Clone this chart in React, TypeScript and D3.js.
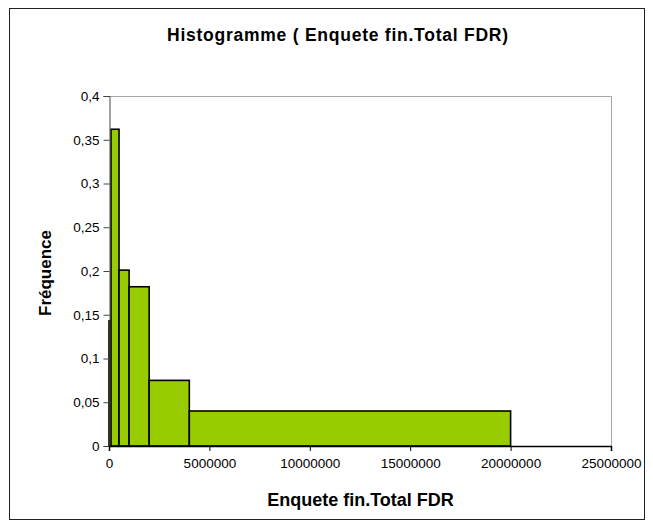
import React, { useEffect, useRef } from "react";
import * as d3 from "d3";

// histogram bins (lower / upper bound) and relative frequency
const binStarts = [0, 100000, 500000, 1000000, 2000000, 4000000, 20000000];
const binEnds = [100000, 500000, 1000000, 2000000, 4000000, 20000000, 25000000];
const frequencies = [0.143, 0.362, 0.201, 0.182, 0.075, 0.04, 0];

const xTicks = [0, 5000000, 10000000, 15000000, 20000000, 25000000];
const yTicks = [0, 0.05, 0.1, 0.15, 0.2, 0.25, 0.3, 0.35, 0.4];

const chartTitle = "Histogramme ( Enquete fin.Total FDR)";
const xTitle = "Enquete fin.Total FDR";
const yTitle = "Fréquence";

const FONT = "'Liberation Sans', Arial, sans-serif";

const Histogram = () => {
  const svgRef = useRef(null);

  useEffect(() => {
    const svg = d3.select(svgRef.current);
    svg.selectAll("*").remove();

    const W = 653;
    const H = 528;
    const left = 109;
    const right = 611;
    const top = 96;
    const bottom = 446;

    const frLocale = d3.formatLocale({
      decimal: ",",
      thousands: " ",
      grouping: [3],
      currency: ["", " €"],
    });

    const x = d3.scaleLinear().domain([0, 25000000]).range([left, right]);
    const y = d3.scaleLinear().domain([0, 0.4]).range([bottom, top]);

    // outer frame
    svg
      .append("rect")
      .attr("x", 9.5)
      .attr("y", 8.5)
      .attr("width", 635)
      .attr("height", 511)
      .attr("fill", "white")
      .attr("stroke", "#222");

    // plot area border (top / right)
    svg
      .append("path")
      .attr("d", `M${left},${top + 0.5}H${right + 0.5}V${bottom}`)
      .attr("fill", "none")
      .attr("stroke", "#a6a6a6");

    const data = frequencies.map((f, i) => ({
      x0: binStarts[i],
      x1: binEnds[i],
      f,
    }));

    svg
      .append("g")
      .selectAll("rect")
      .data(data)
      .join("rect")
      .attr("x", (d) => x(d.x0))
      .attr("y", (d) => y(d.f))
      .attr("width", (d) => x(d.x1) - x(d.x0))
      .attr("height", (d) => y(0) - y(d.f))
      .attr("fill", "#99cc00")
      .attr("stroke", "#000")
      .attr("stroke-width", 1.6);

    // y axis
    const yAxis = d3
      .axisLeft(y)
      .tickValues(yTicks)
      .tickSize(6)
      .tickPadding(4)
      .tickFormat(frLocale.format(".2~f"));

    const gy = svg
      .append("g")
      .attr("transform", `translate(${left + 0.5},0)`)
      .call(yAxis);
    gy.select(".domain").attr("stroke", "#444");
    gy.selectAll(".tick line").attr("stroke", "#444");
    gy.selectAll(".tick text")
      .attr("font-family", FONT)
      .attr("font-size", 13.5)
      .attr("fill", "#000");

    // x axis
    const xAxis = d3
      .axisBottom(x)
      .tickValues(xTicks)
      .tickSize(5)
      .tickPadding(7)
      .tickFormat(d3.format("d"));

    const gx = svg
      .append("g")
      .attr("transform", `translate(0,${bottom})`)
      .call(xAxis);
    gx.select(".domain").attr("stroke", "#000").attr("stroke-width", 1.5);
    gx.selectAll(".tick line").attr("stroke", "#000");
    gx.selectAll(".tick text")
      .attr("font-family", FONT)
      .attr("font-size", 13.5)
      .attr("fill", "#000");

    // titles
    svg
      .append("text")
      .attr("x", 337.5)
      .attr("y", 41)
      .attr("text-anchor", "middle")
      .attr("font-family", FONT)
      .attr("font-weight", "bold")
      .attr("font-size", 17.5)
      .attr("textLength", 341)
      .attr("lengthAdjust", "spacing")
      .text(chartTitle);

    svg
      .append("text")
      .attr("x", 360.5)
      .attr("y", 506)
      .attr("text-anchor", "middle")
      .attr("font-family", FONT)
      .attr("font-weight", "bold")
      .attr("font-size", 18)
      .text(xTitle);

    svg
      .append("text")
      .attr("transform", `translate(51,273) rotate(-90)`)
      .attr("text-anchor", "middle")
      .attr("font-family", FONT)
      .attr("font-weight", "bold")
      .attr("font-size", 17)
      .text(yTitle);

    svg.attr("width", W).attr("height", H);
  }, []);

  return (
    <svg
      ref={svgRef}
      width={653}
      height={528}
      style={{ position: "absolute", left: 0, top: 0, background: "white" }}
    />
  );
};

export default function App() {
  return <Histogram />;
}
